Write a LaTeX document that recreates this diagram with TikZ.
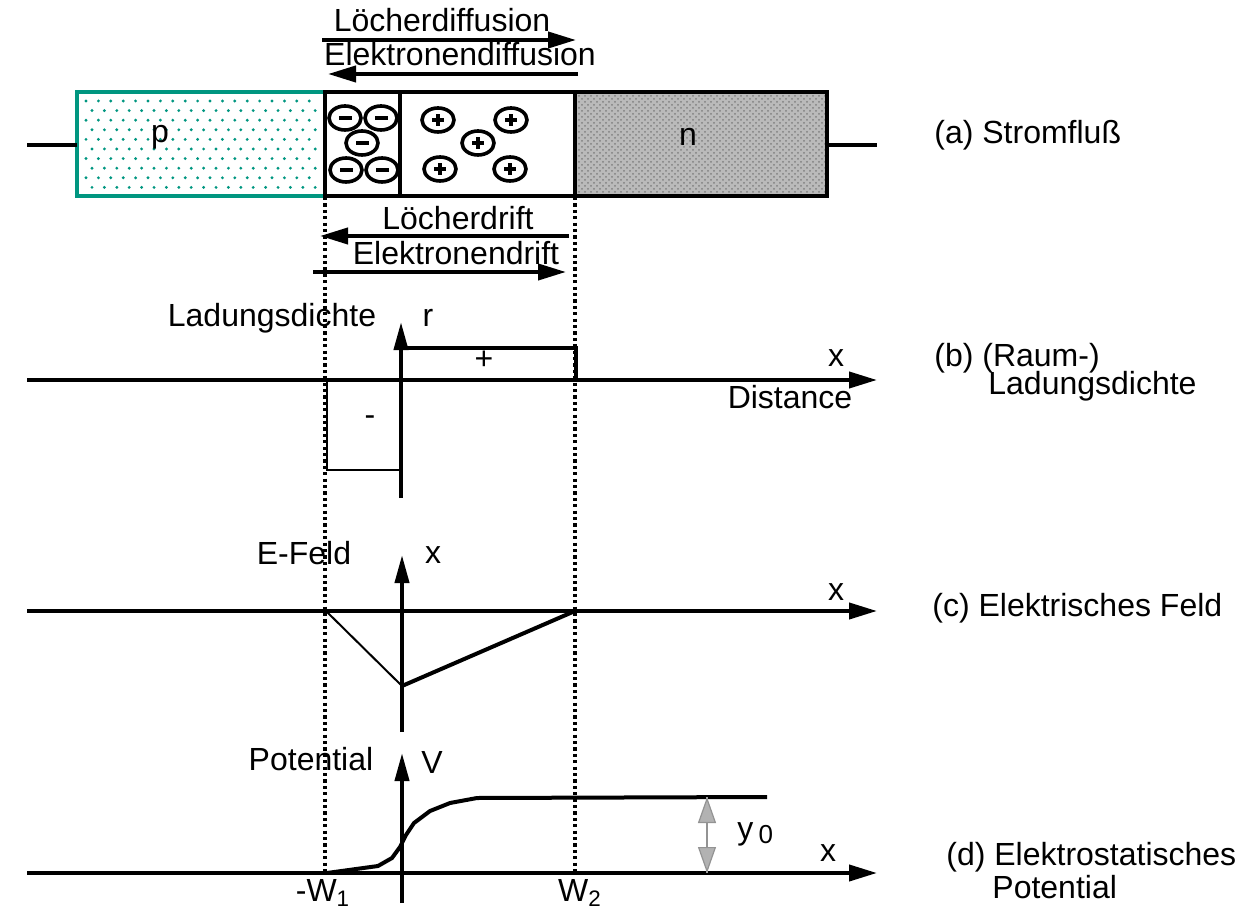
\documentclass[tikz,border=0pt]{standalone}
\usepackage{fontspec}
\setmainfont{Liberation Sans}
\usetikzlibrary{arrows.meta,patterns,shapes.geometric}
\definecolor{tealp}{RGB}{0,150,128}
\definecolor{ngray}{RGB}{186,186,186}
\begin{document}
\begin{tikzpicture}[x=0.5pt,y=-0.5pt,
  lbl/.style={font=\fontsize{16}{19}\selectfont, inner sep=0pt},
  thk/.style={line width=2pt},
  thn/.style={line width=1pt},
  haxis/.style={line width=2pt,-{Triangle[length=14pt,width=8pt]}},
  vaxis/.style={line width=2pt,-{Triangle[length=14pt,width=7pt]}},
  dotln/.style={line width=1.8pt,dash pattern=on 1.6pt off 1.6pt},
  ion/.style={draw, ellipse, line width=1.8pt, minimum width=16pt, minimum height=12pt, inner sep=0pt},
  negion/.pic={\node[ion] (-o) {}; \fill (-6.5,-2.2) rectangle (6.5,2.2);},
  posion/.pic={\node[ion] (-o) {}; \fill (-6,-2) rectangle (6,2); \fill (-2,-6) rectangle (2,6);},
]
\useasboundingbox (0,0) rectangle (1247,909);

% ---------- (a) device ----------
\coordinate (pl1) at (77,92);  \coordinate (pl2) at (325,196);
\coordinate (mb1) at (325,92); \coordinate (mb2) at (575,196);
\coordinate (nb1) at (575,92); \coordinate (nb2) at (827,196);
\coordinate (dv1) at (400,92); \coordinate (dv2) at (400,196);
\coordinate (ll1) at (27,145); \coordinate (ll2) at (77,145);
\coordinate (rl1) at (827,145); \coordinate (rl2) at (877,145);

% p region dots
\foreach \j in {0,...,9}{
  \pgfmathsetmacro{\yy}{101+\j*9.6}
  \pgfmathsetmacro{\off}{mod(\j,2)*6}
  \foreach \i in {0,...,18}{
    \fill[tealp] ({86+\off+\i*12.4},\yy) circle (0.8pt);
  }
}
\draw[tealp, line width=2pt] (pl1) rectangle (pl2);

% n region
\fill[ngray] (nb1) rectangle (nb2);
\fill[pattern=crosshatch dots, pattern color=black!50] (nb1) rectangle (nb2);
\draw[thk] (nb1) rectangle (nb2);
\draw[thk] (mb1) rectangle (mb2);
\draw[thk] (dv1) -- (dv2);
\draw[thk] (ll1) -- (ll2);
\draw[thk] (rl1) -- (rl2);
\node[lbl] (plab) at (160,137) {p};
\node[lbl] (nlab) at (688,137) {n};

% ions
\pic (m1) at (345,118) {negion};
\pic (m2) at (381,118) {negion};
\pic (m3) at (362,143) {negion};
\pic (m4) at (346,170) {negion};
\pic (m5) at (382,170) {negion};
\pic (q1) at (438,120) {posion};
\pic (q2) at (511,120) {posion};
\pic (q3) at (478,143) {posion};
\pic (q4) at (440,169) {posion};
\pic (q5) at (510,169) {posion};

% diffusion / drift arrows
\node[lbl] (tld) at (442,20) {Löcherdiffusion};
\coordinate (ld1) at (322,40); \coordinate (ld2) at (576,40);
\draw[haxis] (ld1) -- (ld2);
\node[lbl] (ted) at (460,54) {Elektronendiffusion};
\coordinate (ed1) at (578,74); \coordinate (ed2) at (328,74);
\draw[haxis] (ed1) -- (ed2);
\node[lbl] (tlr) at (458,218) {Löcherdrift};
\coordinate (lr1) at (569,236); \coordinate (lr2) at (320,236);
\draw[haxis] (lr1) -- (lr2);
\node[lbl] (ter) at (456,253) {Elektronendrift};
\coordinate (er1) at (313,272); \coordinate (er2) at (566,272);
\draw[haxis] (er1) -- (er2);

% dotted guide lines
\coordinate (g1a) at (325,197); \coordinate (g1b) at (325,873);
\coordinate (g2a) at (575,197); \coordinate (g2b) at (575,873);
\draw[dotln] (g1a) -- (g1b);
\draw[dotln] (g2a) -- (g2b);

% ---------- (b) charge density ----------
\coordinate (bx1) at (27,380); \coordinate (bx2) at (877,380);
\coordinate (by1) at (401,498); \coordinate (by2) at (401,322);
\draw[haxis] (bx1) -- (bx2);
\draw[vaxis] (by1) -- (by2);
\coordinate (bp1) at (401,348); \coordinate (bp2) at (576,348); \coordinate (bp3) at (576,380);
\draw[thk] (bp1) -- (bp2) -- (bp3);
\coordinate (bn1) at (327,380); \coordinate (bn2) at (327,470); \coordinate (bn3) at (401,470);
\draw[thn] (bn1) -- (bn2) -- (bn3);
\node[lbl] (tplus) at (484,360) {+};
\node[lbl] (tminus) at (370,421) {-};
\node[lbl] (tladb) at (272,318) {Ladungsdichte};
\node[lbl] (tr) at (428,318) {r};
\node[lbl] (tbx) at (836,358) {x};
\node[lbl] (tdist) at (790,397) {Distance};

% ---------- (c) electric field ----------
\coordinate (cx1) at (27,611); \coordinate (cx2) at (877,611);
\coordinate (cy1) at (402,732); \coordinate (cy2) at (402,555);
\draw[haxis] (cx1) -- (cx2);
\draw[vaxis] (cy1) -- (cy2);
\coordinate (ca) at (326,611); \coordinate (cm) at (402,686); \coordinate (cb) at (575,611);
\draw[thn] (ca) -- (cm);
\draw[thk] (cm) -- (cb);
\node[lbl] (tef) at (304,553) {E-Feld};
\node[lbl] (tcx) at (433,555) {x};
\node[lbl] (tcx2) at (836,592) {x};

% ---------- (d) potential ----------
\coordinate (dx1) at (27,873); \coordinate (dx2) at (877,873);
\coordinate (dy1) at (402,903); \coordinate (dy2) at (402,753);
\draw[haxis] (dx1) -- (dx2);
\draw[vaxis] (dy1) -- (dy2);
\coordinate (dw1) at (327,873); \coordinate (dpe) at (767,797);
\draw[thk, line join=round] (dw1) -- (378,866) -- (392,858) -- (400,847) -- (406,835) -- (414,823) -- (430,811) -- (450,803) -- (477,798) -- (dpe);
\node[lbl] (tpot) at (311,759) {Potential};
\node[lbl] (tv) at (432,762) {V};
\node[lbl] (tdx) at (828,853) {x};
\node[lbl] (tw1) at (323,893) {-W\textsubscript{1}};
\node[lbl] (tw2) at (580,893) {W\textsubscript{2}};
\coordinate (y0a) at (707,873); \coordinate (y0b) at (707,797); \coordinate (y0m) at (707,835);
\draw[gray!70, line width=1.2pt, dash pattern=on 1pt off 0.6pt] (y0a) -- (y0b);
\draw[draw=gray!85, line width=0.6pt, -{Triangle[length=13pt,width=9pt,fill=gray!60]}] ([yshift=-4pt]y0m) -- (y0b);
\draw[draw=gray!85, line width=0.6pt, -{Triangle[length=13pt,width=9pt,fill=gray!60]}] ([yshift=4pt]y0m) -- (y0a);
\node[lbl, anchor=west] (ty0) at (737,834) {y\,\raisebox{-2pt}{\fontsize{13}{15}\selectfont 0}};

% ---------- right-hand captions ----------
\node[lbl, anchor=west] (capa) at (934,135) {(a) Stromfluß};
\node[lbl, anchor=west] (capb1) at (934,358) {(b) (Raum-)};
\node[lbl, anchor=west] (capb2) at (988,386) {Ladungsdichte};
\node[lbl, anchor=west] (capc) at (932,608) {(c) Elektrisches Feld};
\node[lbl, anchor=west] (capd1) at (946,857) {(d) Elektrostatisches};
\node[lbl, anchor=west] (capd2) at (992,887) {Potential};
\end{tikzpicture}
\end{document}
